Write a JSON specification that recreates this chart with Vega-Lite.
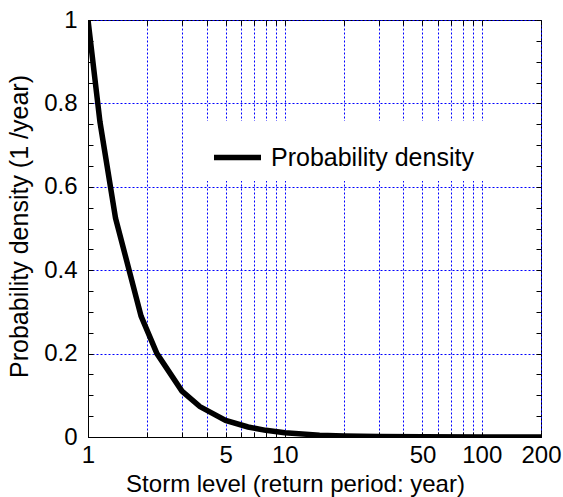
{
  "$schema": "https://vega.github.io/schema/vega-lite/v6.json",
  "width": 453,
  "height": 417,
  "autosize": "none",
  "padding": {"left": 88, "top": 20, "right": 22, "bottom": 60},
  "background": "white",
  "config": {
    "view": {"stroke": "black", "strokeWidth": 1},
    "font": "Liberation Sans",
    "axis": {"labelFont": "Liberation Sans", "titleFont": "Liberation Sans", "labelColor": "black", "titleColor": "black", "titleFontWeight": "normal"}
  },
  "data": {
    "values": [
      {"T": 1, "p": 1.0},
      {"T": 1.15, "p": 0.756},
      {"T": 1.38, "p": 0.525},
      {"T": 1.86, "p": 0.29},
      {"T": 2.24, "p": 0.2},
      {"T": 3.0, "p": 0.11},
      {"T": 3.7, "p": 0.073},
      {"T": 5, "p": 0.04},
      {"T": 6.5, "p": 0.024},
      {"T": 8, "p": 0.016},
      {"T": 10, "p": 0.01},
      {"T": 15, "p": 0.0045},
      {"T": 20, "p": 0.0025},
      {"T": 30, "p": 0.0011},
      {"T": 50, "p": 0.0004},
      {"T": 100, "p": 0.0001},
      {"T": 200, "p": 0.000025}
    ]
  },
  "layer": [
    {
      "mark": {"type": "line", "strokeWidth": 5.5, "clip": true},
      "encoding": {
        "x": {
          "field": "T", "type": "quantitative",
          "scale": {"type": "log", "domain": [1, 200], "nice": false},
          "axis": {
            "orient": "bottom",
            "title": "Storm level (return period: year)",
            "titleFontSize": 24,
            "titleAlign": "center",
            "titleBaseline": "alphabetic",
            "titleX": 207,
            "titleY": 54,
            "values": [1, 2, 3, 4, 5, 6, 7, 8, 9, 10, 20, 30, 40, 50, 60, 70, 80, 90, 100, 200],
            "labelExpr": "indexof([1,5,10,50,100,200], datum.value) >= 0 ? format(datum.value, 'd') : ''",
            "labelFontSize": 24,
            "labelFlush": false,
            "labelOverlap": false,
            "labelPadding": 11,
            "tickSize": -5,
            "tickColor": "black",
            "domainColor": "black",
            "grid": true,
            "gridColor": "#0000ff",
            "gridDash": [2, 2],
            "gridWidth": 1,
            "gridOpacity": 1
          }
        },
        "y": {
          "field": "p", "type": "quantitative",
          "scale": {"domain": [0, 1], "nice": false},
          "axis": {
            "orient": "left",
            "title": "Probability density (1 /year)",
            "titleFontSize": 25,
            "titleAngle": -90,
            "titleAlign": "center",
            "titleBaseline": "alphabetic",
            "titleX": -61,
            "titleY": 206,
            "values": [0, 0.05, 0.1, 0.15, 0.2, 0.25, 0.3, 0.35, 0.4, 0.45, 0.5, 0.55, 0.6, 0.65, 0.7, 0.75, 0.8, 0.85, 0.9, 0.95, 1],
            "labelExpr": "abs(datum.value*5 - round(datum.value*5)) < 0.000001 ? format(datum.value, '.1~f') : ''",
            "labelFontSize": 24,
            "labelFlush": false,
            "labelOverlap": false,
            "labelPadding": 16,
            "tickSize": -5,
            "tickColor": "black",
            "domainColor": "black",
            "grid": true,
            "gridColor": "#0000ff",
            "gridDash": [2, 2],
            "gridWidth": 1,
            "gridOpacity": {"condition": {"test": "abs(datum.value*5 - round(datum.value*5)) < 0.000001", "value": 1}, "value": 0}
          }
        },
        "color": {
          "datum": "Probability density",
          "scale": {"range": ["black"]},
          "legend": {
            "title": null,
            "orient": "none",
            "legendX": 113,
            "legendY": 101,
            "padding": 10,
            "fillColor": "white",
            "strokeColor": null,
            "symbolType": "stroke",
            "symbolSize": 2209,
            "symbolStrokeWidth": 5.5,
            "symbolStrokeColor": "black",
            "labelFont": "Liberation Sans",
            "labelFontSize": 25,
            "labelColor": "black",
            "labelOffset": 7,
            "labelLimit": 400
          }
        }
      }
    },
    {
      "mark": {"type": "line", "opacity": 0},
      "encoding": {
        "x": {
          "field": "T", "type": "quantitative",
          "scale": {"type": "log", "domain": [1, 200], "nice": false},
          "axis": {
            "orient": "top",
            "title": null,
            "values": [1, 2, 3, 4, 5, 6, 7, 8, 9, 10, 20, 30, 40, 50, 60, 70, 80, 90, 100, 200],
            "labels": false,
            "grid": false,
            "domain": false,
            "tickSize": -5,
            "tickColor": "black"
          }
        },
        "y": {
          "field": "p", "type": "quantitative",
          "scale": {"domain": [0, 1], "nice": false},
          "axis": {
            "orient": "right",
            "title": null,
            "values": [0, 0.05, 0.1, 0.15, 0.2, 0.25, 0.3, 0.35, 0.4, 0.45, 0.5, 0.55, 0.6, 0.65, 0.7, 0.75, 0.8, 0.85, 0.9, 0.95, 1],
            "labels": false,
            "grid": false,
            "domain": false,
            "tickSize": -5,
            "tickColor": "black"
          }
        }
      }
    }
  ],
  "resolve": {"axis": {"x": "independent", "y": "independent"}}
}
